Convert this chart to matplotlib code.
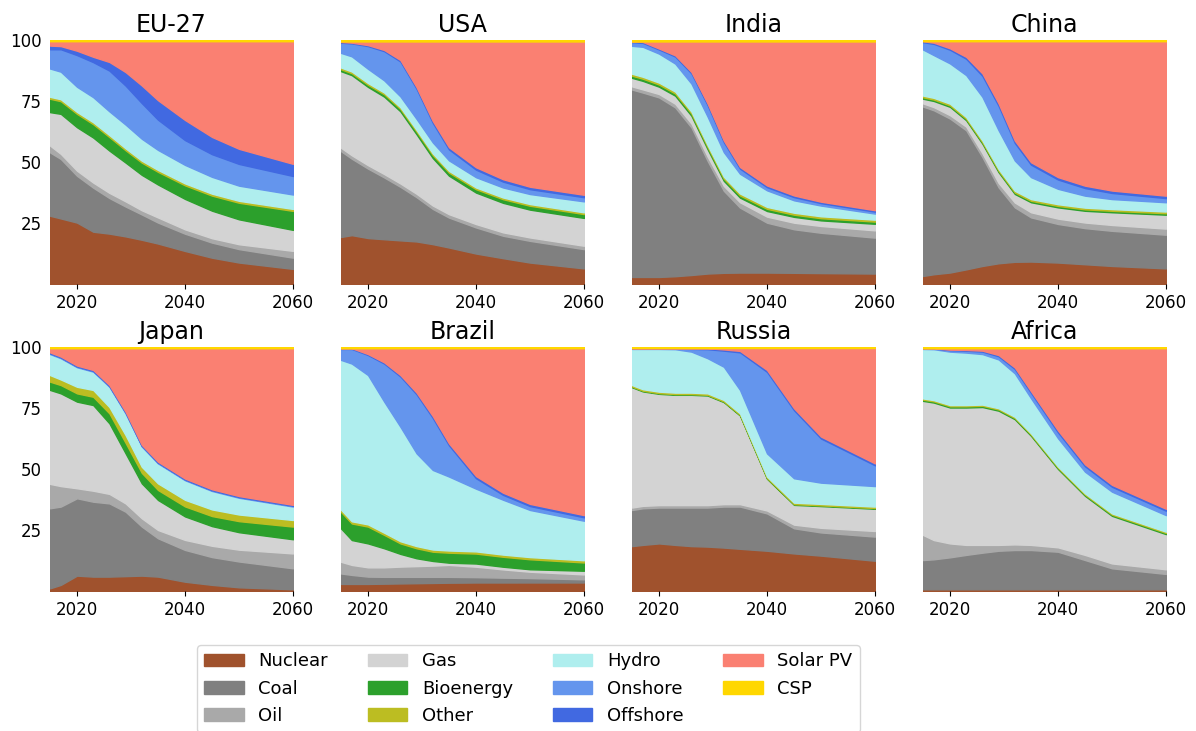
import matplotlib
matplotlib.use("Agg")
import matplotlib.pyplot as plt
import numpy as np

# ## Data: electricity generation shares (%)
years = [2015, 2017, 2020, 2023, 2026, 2029, 2032, 2035, 2040, 2045, 2050, 2060]

techs = ["Nuclear", "Coal", "Oil", "Gas", "Bioenergy", "Other",
         "Hydro", "Onshore", "Offshore", "Solar PV", "CSP"]
colors = ["sienna", "grey", "darkgrey", "lightgrey", "tab:green", "tab:olive",
          "paleturquoise", "cornflowerblue", "royalblue", "salmon", "gold"]

# rows follow the order of `techs`
eu27 = [
    [28, 26.9, 25.2, 21.5, 20.4, 19.3, 18, 16.6, 13.6, 10.8, 8.8, 6.2],
    [26, 24.4, 19.2, 18.1, 14.4, 12.1, 10.3, 8.6, 7.1, 6.2, 5.5, 4.6],
    [2.8, 2.1, 2.1, 2.1, 2.1, 2.1, 1.7, 2.1, 1.8, 1.8, 2, 2.8],
    [13.7, 16.4, 17.8, 18.5, 17.1, 15.7, 14.4, 13.5, 12.5, 11.3, 10.2, 8.6],
    [5.5, 5.2, 5.5, 5.5, 5.5, 5, 5, 5.2, 5.6, 6.2, 6.8, 7.8],
    [0.8, 0.8, 0.8, 0.8, 0.8, 0.8, 0.8, 0.8, 0.8, 0.8, 0.8, 0.8],
    [11.6, 11.3, 10.3, 10.3, 9.6, 9.6, 8.9, 8.2, 7.6, 6.9, 6.2, 5.9],
    [7.9, 9.2, 13, 14.4, 16.5, 15.8, 14.5, 12.4, 10.2, 9.3, 8.9, 7.6],
    [1.5, 1.3, 1.8, 2.2, 3.5, 5.5, 7.2, 8, 8.3, 7.1, 6.2, 5],
    [1.8, 2, 3.9, 6.4, 8.4, 12.5, 18, 24.2, 32.4, 39.3, 44.1, 50.3],
    [0.5, 0.5, 0.5, 0.5, 0.5, 0.5, 0.5, 0.5, 0.5, 0.5, 0.5, 0.5],
]
usa = [
    [19.3, 20, 18.8, 18.4, 18.1, 17.4, 16.3, 15, 12.5, 10.6, 8.8, 6.4],
    [35.2, 31.3, 28.4, 25.4, 22.2, 18.1, 14.4, 12.3, 10.7, 9.2, 8.9, 7.9],
    [1.4, 1.4, 1.4, 1.4, 1.4, 1.4, 1.4, 1.4, 1.4, 1.4, 1.4, 1.4],
    [31.4, 32.8, 32, 31.8, 29.9, 24.3, 19.4, 15.8, 12.9, 12.1, 11.4, 11.4],
    [0.8, 0.8, 0.9, 1, 1, 1.1, 1.2, 1.3, 1.4, 1.5, 1.6, 1.6],
    [0.7, 0.7, 0.7, 0.7, 0.7, 0.7, 0.7, 0.7, 0.7, 0.7, 0.7, 0.7],
    [6, 6.2, 5.8, 5, 4.5, 4.5, 4.5, 4.3, 4.2, 4.1, 4.1, 4.5],
    [4.2, 5.3, 9.3, 12, 14.5, 12.3, 8, 4.5, 3.1, 2.4, 2, 1.7],
    [0.3, 0.3, 0.4, 0.5, 0.6, 0.7, 0.8, 0.9, 1, 1, 1, 1],
    [0.2, 0.5, 1.5, 3.5, 7.7, 18.7, 32.5, 43.5, 51.6, 56.5, 59.6, 62.9],
    [0.6, 0.6, 0.6, 0.6, 0.6, 0.6, 0.6, 0.6, 0.6, 0.6, 0.6, 0.6],
]
india = [
    [2.9, 2.9, 2.9, 3.2, 3.7, 4.3, 4.6, 4.7, 4.7, 4.6, 4.5, 4.3],
    [77.2, 75.8, 73.8, 69.4, 60.6, 46.3, 33.7, 26.7, 20.5, 17.9, 16.6, 14.8],
    [1.3, 1.3, 1.4, 1.5, 1.6, 1.8, 2, 2.2, 2.5, 2.7, 2.8, 3],
    [3.5, 3.5, 3, 3.3, 3.2, 3, 2.1, 1.9, 2.3, 2.4, 2.3, 2.7],
    [0.9, 0.9, 0.9, 0.9, 0.9, 0.9, 0.9, 0.9, 0.9, 0.9, 0.9, 0.9],
    [0.8, 0.8, 0.8, 0.8, 0.8, 0.8, 0.8, 0.8, 0.8, 0.8, 0.8, 0.8],
    [11.5, 12.3, 11.9, 11.5, 11.5, 11.7, 10.1, 8.1, 6.8, 5.1, 4.4, 2.5],
    [1.5, 1.6, 1.7, 2.9, 4.2, 4.7, 4.1, 2.1, 1.3, 1.3, 1, 0.8],
    [0.3, 0.4, 0.4, 0.5, 0.6, 0.7, 0.7, 0.7, 0.7, 0.7, 0.6, 0.6],
    [0, 0.2, 2.9, 5.7, 12.5, 25.5, 40.7, 51.6, 59.2, 63.3, 66, 69.5],
    [0.6, 0.6, 0.6, 0.6, 0.6, 0.6, 0.6, 0.6, 0.6, 0.6, 0.6, 0.6],
]
china = [
    [3.3, 4, 4.7, 6, 7.4, 8.5, 9.1, 9.2, 8.8, 8.1, 7.4, 6.4],
    [69.5, 67.2, 63.1, 57, 44.6, 31.1, 22.3, 18.1, 15.8, 14.8, 14.4, 13.8],
    [1.3, 1.3, 1.4, 1.5, 1.6, 1.8, 2, 2.1, 2.2, 2.3, 2.4, 2.5],
    [1.9, 2.5, 3.4, 2.6, 3.9, 4.4, 3.5, 4.1, 4.6, 4.8, 5.2, 5.7],
    [0.6, 0.6, 0.6, 0.6, 0.6, 0.6, 0.6, 0.6, 0.6, 0.6, 0.6, 0.6],
    [0.7, 0.7, 0.7, 0.7, 0.7, 0.7, 0.7, 0.7, 0.7, 0.7, 0.7, 0.7],
    [18.9, 17.5, 16.5, 17.2, 17.9, 15.9, 12.4, 9, 6.3, 4.9, 4.1, 3.8],
    [3, 4.6, 5.6, 6.7, 8.6, 10, 7.2, 5.1, 3.8, 3.1, 2.5, 1.7],
    [0.4, 0.5, 0.6, 0.8, 1, 1, 1, 1, 1, 1, 1, 1],
    [0, 0.6, 2.9, 6.4, 13.2, 25.5, 40.7, 49.6, 55.7, 59.2, 61.2, 63.3],
    [0.5, 0.5, 0.5, 0.5, 0.5, 0.5, 0.5, 0.5, 0.5, 0.5, 0.5, 0.5],
]
japan = [
    [1.1, 2.5, 6.3, 5.9, 5.9, 6.1, 6.3, 5.9, 3.8, 2.5, 1.5, 0.7],
    [32.8, 32.1, 31.7, 30.7, 30, 26.4, 20.1, 15.7, 13, 11.3, 10.5, 8.6],
    [10, 8.4, 4.1, 4.5, 3.9, 3.4, 3.4, 3.4, 4.1, 4.6, 4.8, 6.1],
    [38.5, 38, 35.5, 35.1, 28.9, 20.5, 14.3, 12.3, 9.6, 8, 7.1, 5.8],
    [3.4, 3.4, 3.4, 3.4, 4.1, 4.3, 4.3, 4.1, 4.1, 4.1, 4.5, 5.2],
    [2.7, 2.3, 2.7, 2.8, 2.6, 3.2, 2.5, 2.7, 2.7, 2.7, 2.7, 2.7],
    [8.6, 8.7, 8, 7.5, 8.3, 8.9, 8.3, 8.2, 8, 7.5, 6.8, 5.5],
    [0.3, 0.3, 0.3, 0.3, 0.3, 0.3, 0.3, 0.3, 0.3, 0.3, 0.3, 0.3],
    [0.4, 0.4, 0.4, 0.4, 0.4, 0.4, 0.4, 0.4, 0.4, 0.4, 0.4, 0.4],
    [1.7, 3.4, 7.1, 8.9, 15.1, 26, 39.6, 46.5, 53.3, 57.4, 60.1, 64.2],
    [0.5, 0.5, 0.5, 0.5, 0.5, 0.5, 0.5, 0.5, 0.5, 0.5, 0.5, 0.5],
]
brazil = [
    [2.9, 2.9, 2.9, 3, 3.1, 3.2, 3.3, 3.4, 3.5, 3.5, 3.5, 3.5],
    [4.3, 3.7, 3, 2.8, 2.7, 2.6, 2.5, 2.4, 2.2, 2, 1.8, 1.3],
    [4.8, 4.1, 3.8, 3.9, 4.2, 4.4, 4.6, 4.9, 4.3, 3.4, 2.6, 2],
    [13.7, 10.2, 9.8, 7.8, 5.2, 3.2, 1.9, 0.9, 1.3, 1.1, 1, 1.5],
    [6.8, 6.8, 6.9, 5.5, 4.3, 4.1, 3.8, 4.1, 4.1, 4.1, 4.1, 3.4],
    [0.9, 0.9, 0.9, 0.9, 0.9, 0.9, 0.9, 0.9, 0.9, 0.9, 0.9, 0.9],
    [61.5, 64.7, 61.2, 53.7, 46.9, 38, 32.6, 30.3, 25.8, 22.6, 19.3, 16.2],
    [4.5, 6, 8.2, 15.6, 20.6, 24.2, 21.3, 12.8, 4.3, 2, 1.6, 1.4],
    [0.3, 0.3, 0.4, 0.5, 0.6, 0.7, 0.8, 0.8, 0.9, 0.9, 0.9, 0.9],
    [0, 0, 2.4, 5.8, 11, 18.2, 27.8, 39, 52.6, 59.5, 63.8, 68.4],
    [0.5, 0.5, 0.5, 0.5, 0.5, 0.5, 0.5, 0.5, 0.5, 0.5, 0.5, 0.5],
]
russia = [
    [18.4, 18.9, 19.5, 18.9, 18.4, 18.2, 17.8, 17.3, 16.5, 15.4, 14.5, 12.4],
    [14.8, 15, 14.7, 15.3, 15.8, 16, 16.8, 17.3, 15.3, 10.3, 9.5, 9.9],
    [1, 1, 1, 1, 1, 1, 1, 1, 1.2, 1.5, 1.9, 2.3],
    [49.3, 46.9, 45.6, 45.2, 45.2, 44.9, 41.8, 36.3, 13, 8.1, 8.9, 9.1],
    [0.3, 0.3, 0.3, 0.3, 0.3, 0.3, 0.3, 0.3, 0.3, 0.3, 0.3, 0.3],
    [0.6, 0.6, 0.6, 0.6, 0.6, 0.6, 0.6, 0.6, 0.6, 0.6, 0.6, 0.6],
    [14.8, 16.5, 17.5, 17.8, 16.8, 14.4, 13.6, 9.6, 9.5, 10, 8.7, 8.4],
    [0.2, 0.2, 0.2, 0.2, 1.1, 3.7, 6.6, 15.4, 33.4, 27.9, 18.1, 8.5],
    [0.1, 0.1, 0.1, 0.2, 0.3, 0.4, 0.5, 0.6, 0.8, 0.8, 0.8, 0.8],
    [0, 0, 0, 0, 0, 0, 0.5, 1.1, 8.9, 24.6, 36.2, 47.2],
    [0.5, 0.5, 0.5, 0.5, 0.5, 0.5, 0.5, 0.5, 0.5, 0.5, 0.5, 0.5],
]
africa = [
    [0.7, 0.7, 0.7, 0.7, 0.7, 0.7, 0.7, 0.7, 0.7, 0.7, 0.7, 0.7],
    [12, 12.3, 13.1, 14.1, 15, 15.8, 16.1, 16.1, 15.4, 12, 8.6, 6.3],
    [10.3, 7.9, 5.7, 4.1, 3.2, 2.4, 2.3, 2.1, 1.8, 2.1, 2, 1.9],
    [55, 56.4, 55.7, 56.3, 56.5, 55, 51.3, 44.7, 32.1, 24.2, 19.5, 14.4],
    [0.5, 0.5, 0.5, 0.5, 0.5, 0.5, 0.5, 0.5, 0.5, 0.5, 0.5, 0.5],
    [0.5, 0.5, 0.5, 0.5, 0.5, 0.5, 0.5, 0.5, 0.5, 0.5, 0.5, 0.5],
    [20.3, 20.9, 21.9, 21.5, 20.7, 20, 17.8, 14.4, 11.6, 8.9, 8.9, 6.8],
    [0.2, 0.3, 0.6, 0.8, 1, 1.3, 1.8, 2.2, 2.4, 2.2, 2, 1.8],
    [0.1, 0.1, 0.2, 0.3, 0.4, 0.5, 0.6, 0.7, 0.8, 0.8, 0.8, 0.8],
    [0, 0, 0.6, 0.7, 1, 2.8, 7.9, 17.6, 33.7, 47.6, 56, 65.8],
    [0.5, 0.5, 0.5, 0.5, 0.5, 0.5, 0.5, 0.5, 0.5, 0.5, 0.5, 0.5],
]

regions = ["EU-27", "USA", "India", "China", "Japan", "Brazil", "Russia", "Africa"]
shares = [eu27, usa, india, china, japan, brazil, russia, africa]

# ## Figure layout (pixel positions of the reference, 1196x731)
fig = plt.figure(figsize=(11.96, 7.31), dpi=100)
lefts = [50, 341, 632, 923]
tops = [40, 347]
W, H = 1196, 731

for i, (name, data) in enumerate(zip(regions, shares)):
    row, col = divmod(i, 4)
    ax = fig.add_axes([lefts[col] / W, 1 - (tops[row] + 244) / H, 243 / W, 244 / H])
    vals = np.array(data, dtype=float)
    vals = vals / vals.sum(axis=0) * 100  # shares add up to 100 %
    polys = ax.stackplot(years, vals, colors=colors, labels=techs)
    for p in polys:
        p.set_edgecolor(p.get_facecolor())
        p.set_linewidth(1.0)
    ax.set_xlim(2015, 2060)
    ax.set_ylim(0, 100)
    ax.set_xticks([2020, 2040, 2060])
    ax.set_yticks([25, 50, 75, 100])
    ax.tick_params(axis='both', labelsize=12)
    ax.tick_params(axis='y', length=0, pad=6, labelleft=(col == 0))
    for s in ax.spines.values():
        s.set_visible(False)
    ax.set_title(name, fontsize=17)

handles, labels = ax.get_legend_handles_labels()
fig.legend(handles, labels, loc='upper left', ncol=4,
           bbox_to_anchor=(197 / W, 1 - 645 / H), fontsize=13,
           handlelength=2.2, handleheight=0.7, labelspacing=0.52,
           columnspacing=2.2, handletextpad=0.8, borderpad=0.4,
           borderaxespad=0)

fig.savefig("out.png", dpi=100)
